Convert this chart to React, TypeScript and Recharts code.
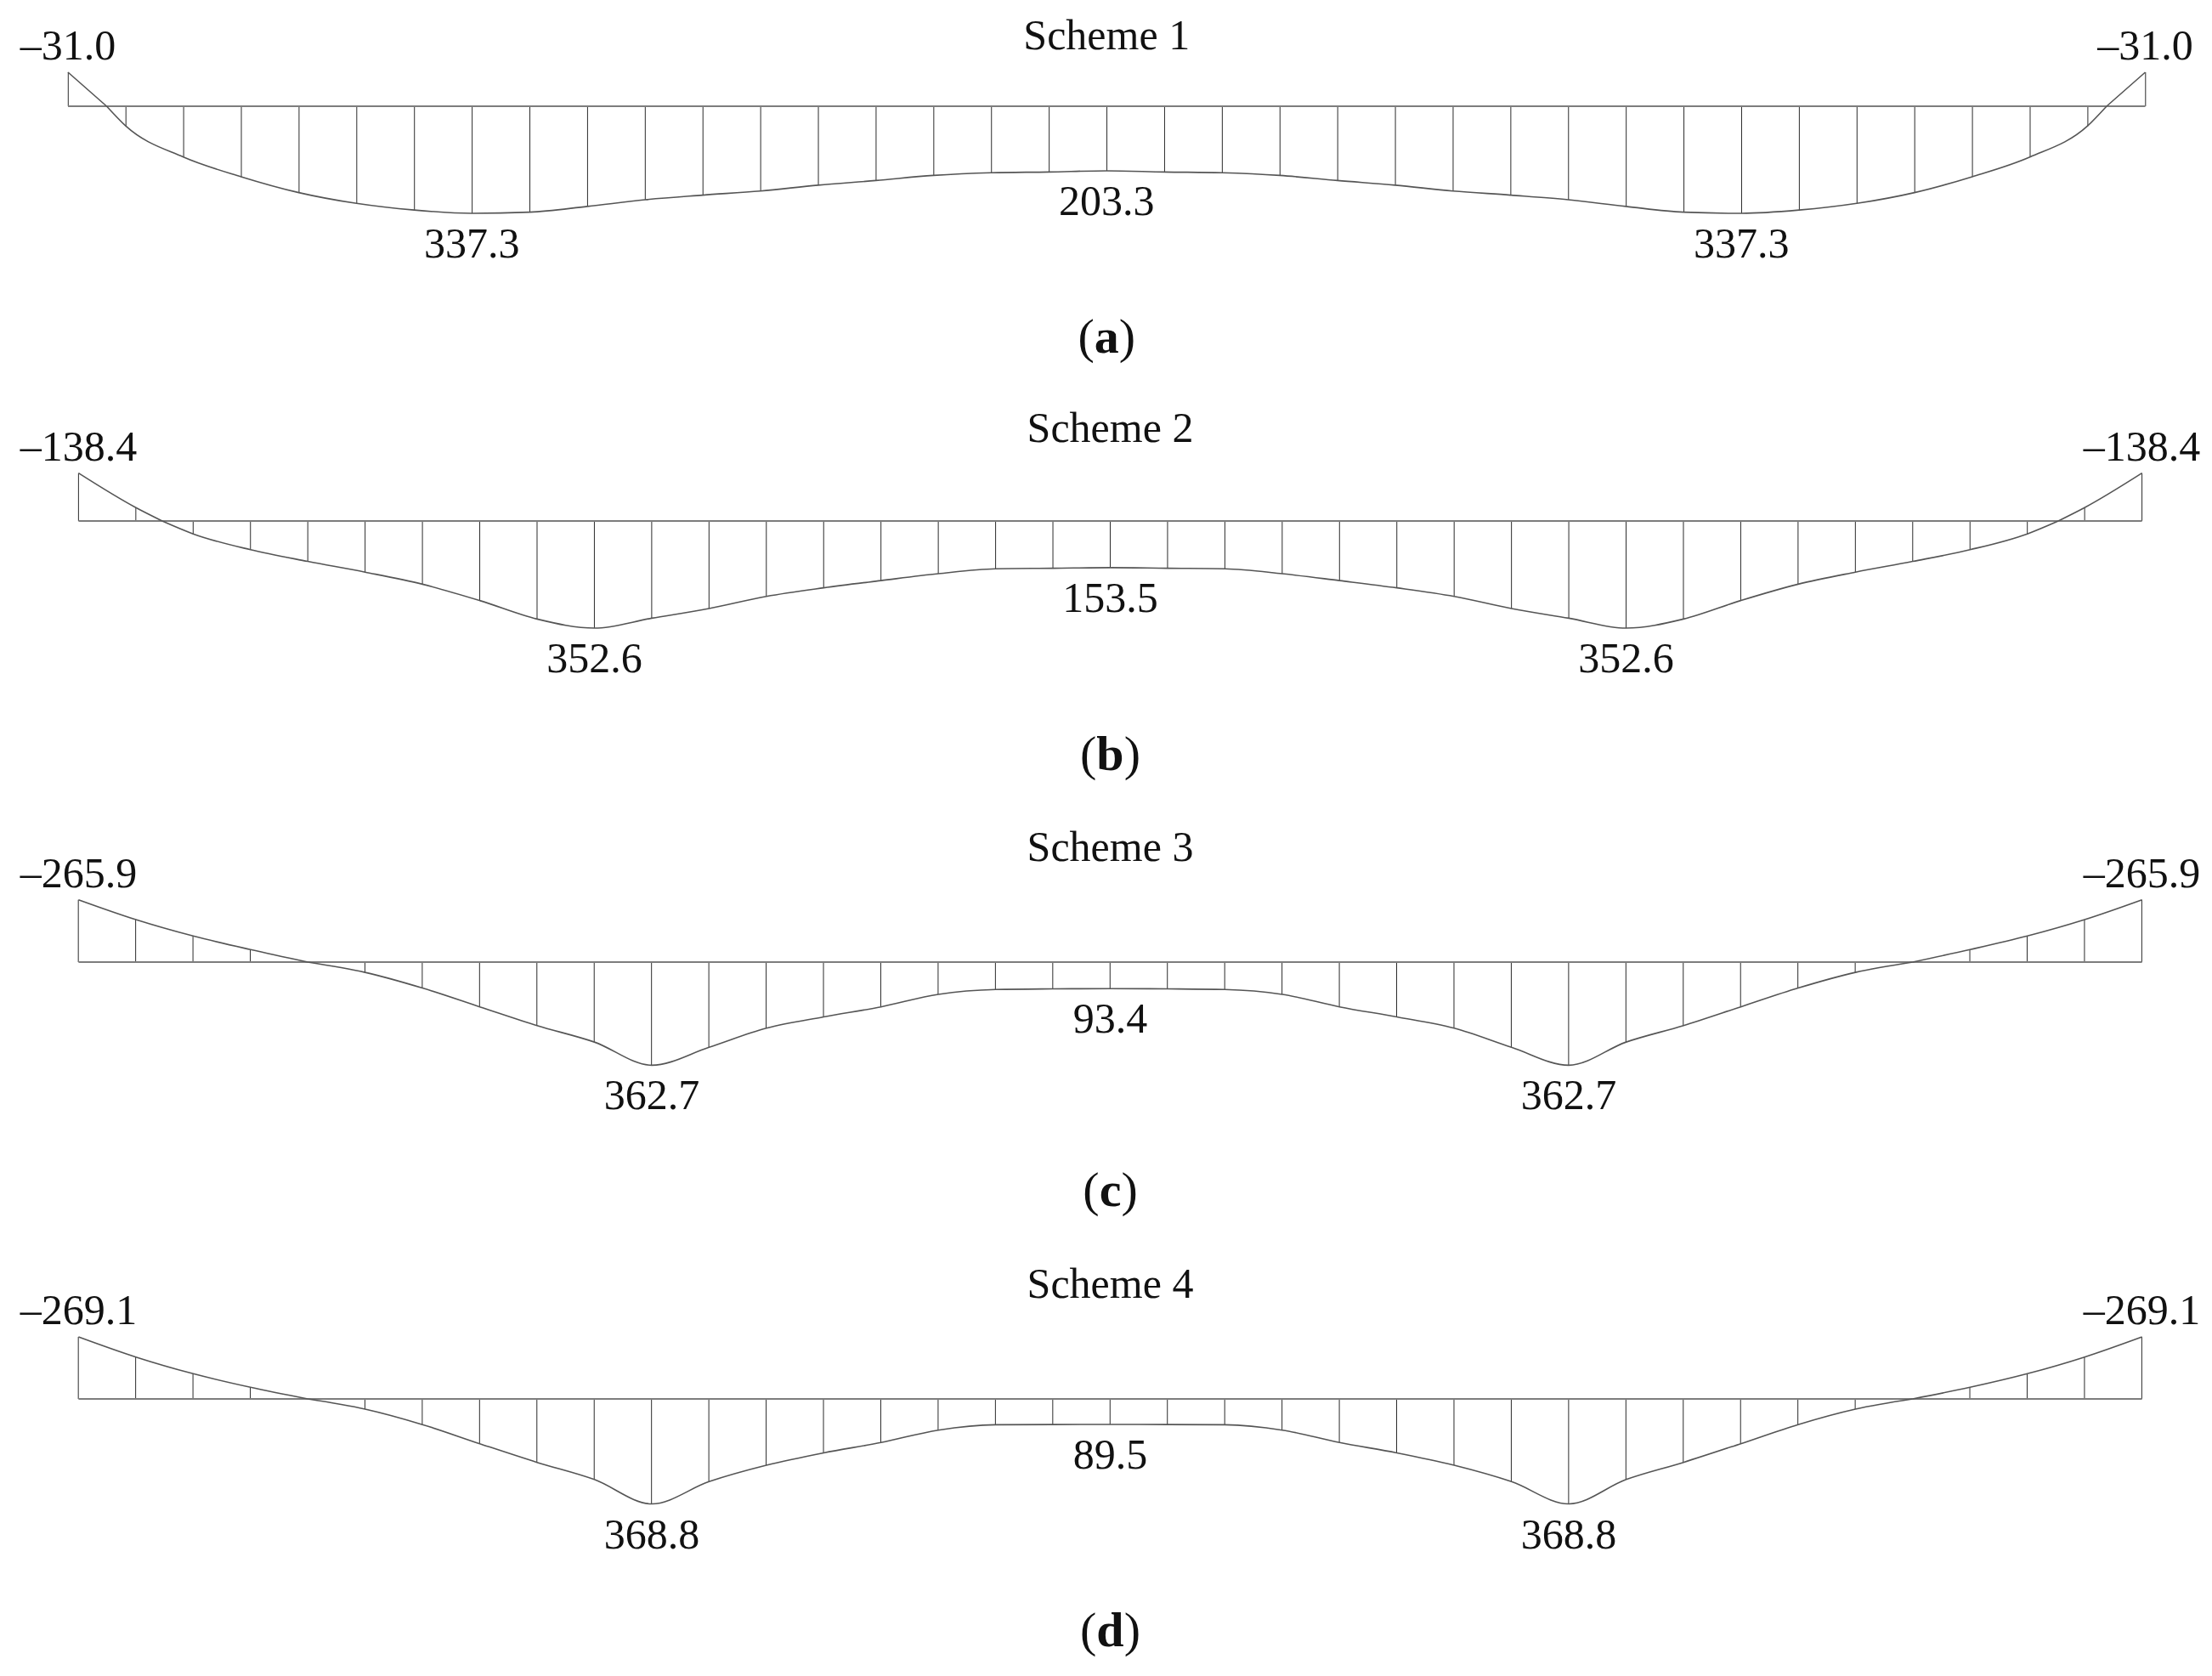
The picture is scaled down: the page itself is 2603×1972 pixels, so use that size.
import React from "react";
import { ComposedChart, Line, Bar, XAxis, YAxis, ReferenceLine } from "recharts";

// 37 cross-sections along the girder (36 equal segments)
const stations = Array.from({ length: 37 }, (_, i) => i);

// bending moment at each section, kN·m (negative = hogging over the supports)
const scheme1 = [
    -31.0, 62.0, 160.0, 222.0, 272.0, 306.0, 327.0, 337.3, 333.6, 315.4, 294.6, 280.0, 266.8,
    248.6, 234.0, 217.9, 209.5, 207.0, 203.3, 207.0, 209.5, 217.9, 234.0, 248.6, 266.8, 280.0,
    294.6, 315.4, 333.6, 337.3, 327.0, 306.0, 272.0, 222.0, 160.0, 62.0, -31.0,
];
const scheme2 = [
    -138.4, -38.6, 42.4, 94.5, 133.1, 168.4, 208.1, 261.9, 322.7, 352.6, 320.0, 288.0, 248.1,
    220.0, 196.2, 173.5, 157.4, 155.6, 153.5, 155.6, 157.4, 173.5, 196.2, 220.0, 248.1, 288.0,
    320.0, 352.6, 322.7, 261.9, 208.1, 168.4, 133.1, 94.5, 42.4, -38.6, -138.4,
];
const scheme3 = [
    -265.9, -181.4, -111.4, -53.3, 0, 36.3, 91.4, 157.4, 223.3, 281.3, 362.7, 299.6, 232.5,
    192.8, 157.4, 113.5, 96.5, 94.3, 93.4, 94.3, 96.5, 113.5, 157.4, 192.8, 232.5, 299.6,
    362.7, 281.3, 223.3, 157.4, 91.4, 36.3, 0, -53.3, -111.4, -181.4, -265.9,
];
const scheme4 = [
    -269.1, -181.8, -109.4, -50.4, 0, 35.7, 90.0, 157.3, 222.9, 283.2, 368.8, 290.7, 233.2,
    189.5, 153.2, 109.5, 90.7, 89.9, 89.5, 89.9, 90.7, 109.5, 153.2, 189.5, 233.2, 290.7,
    368.8, 283.2, 222.9, 157.3, 90.0, 35.7, 0, -50.4, -109.4, -181.8, -269.1,
];

// where the diagram crosses zero (in segment units)
const scheme1Zero = [0.67, 35.33];
const scheme2Zero = [1.46, 34.54];
const scheme3Zero = [4, 32];
const scheme4Zero = [4, 32];

// sections that carry a value label
const scheme1Marks = [0, 7, 18, 29, 36];
const scheme2Marks = [0, 9, 18, 27, 36];
const scheme3Marks = [0, 10, 18, 26, 36];
const scheme4Marks = [0, 10, 18, 26, 36];

const titles = ["Scheme 1", "Scheme 2", "Scheme 3", "Scheme 4"];
const captions = ["a", "b", "c", "d"];

const W = 2603;
const H = 1972;
const UP = 150;
const DOWN = 220;
const FONT = "'Liberation Serif', 'Times New Roman', serif";

// page layout of each diagram (px), and drawing scales (px per kN·m)
const layouts = [
    { baseY: 125, left: 80, right: 2524.5, sagPx: 0.3736, hogPx: 1.29, titleY: 58, captionY: 415 },
    { baseY: 613, left: 92.4, right: 2520.6, sagPx: 0.3575, hogPx: 0.4068, titleY: 520, captionY: 906 },
    { baseY: 1132.3, left: 92.4, right: 2520.6, sagPx: 0.3346, hogPx: 0.2757, titleY: 1013, captionY: 1419 },
    { baseY: 1645.7, left: 92.4, right: 2520.6, sagPx: 0.3349, hogPx: 0.2713, titleY: 1527, captionY: 1937 },
];

const fmt = (v: number) => (v < 0 ? "\u2013" + Math.abs(v).toFixed(1) : v.toFixed(1));

function buildRows(values: number[], zeros: number[], marks: number[]) {
    const rows: any[] = stations.map((i) => ({
        x: i,
        m: values[i],
        endMark: marks.includes(i) && (i === 0 || i === 36) ? fmt(values[i]) : undefined,
        midMark: marks.includes(i) && i !== 0 && i !== 36 ? fmt(values[i]) : undefined,
    }));
    zeros.forEach((z) => {
        if (!stations.includes(z)) rows.push({ x: z, m: 0 });
    });
    rows.sort((a, b) => a.x - b.x);
    return rows.map((r) => ({
        ...r,
        hog: r.m <= 0 ? r.m : null,
        sag: r.m >= 0 ? r.m : null,
    }));
}

const schemes = [
    buildRows(scheme1, scheme1Zero, scheme1Marks),
    buildRows(scheme2, scheme2Zero, scheme2Marks),
    buildRows(scheme3, scheme3Zero, scheme3Marks),
    buildRows(scheme4, scheme4Zero, scheme4Marks),
];

const textStyle = { fontFamily: FONT, fontSize: 50, fill: "#111" };

const endLabel = (props: any) => {
    const { cx, cy, payload, index } = props;
    if (cy == null || isNaN(cy) || !payload || !payload.endMark) return <g key={`e-${index}`} />;
    return (
        <text key={`e-${index}`} x={cx} y={cy - 15} textAnchor="middle" style={textStyle}>
            {payload.endMark}
        </text>
    );
};

const midLabel = (props: any) => {
    const { cx, cy, payload, index } = props;
    if (cy == null || isNaN(cy) || !payload || !payload.midMark) return <g key={`m-${index}`} />;
    return (
        <text key={`m-${index}`} x={cx} y={cy + 52} textAnchor="middle" style={textStyle}>
            {payload.midMark}
        </text>
    );
};

function MomentDiagram({ rows, layout }: { rows: any[]; layout: any }) {
    return (
        <div style={{ position: "absolute", left: 0, top: layout.baseY - UP, width: W, height: UP + DOWN }}>
            <ComposedChart
                width={W}
                height={UP + DOWN}
                data={rows}
                barGap={-1}
                margin={{ top: 0, bottom: 0, left: layout.left, right: W - layout.right }}
            >
                <XAxis type="number" dataKey="x" domain={[0, 36]} hide />
                <YAxis
                    yAxisId="sag"
                    type="number"
                    domain={[-UP / layout.sagPx, DOWN / layout.sagPx]}
                    reversed
                    hide
                />
                <YAxis
                    yAxisId="hog"
                    type="number"
                    domain={[-UP / layout.hogPx, DOWN / layout.hogPx]}
                    reversed
                    hide
                />
                <ReferenceLine yAxisId="sag" y={0} stroke="#7d7d7d" strokeWidth={2} />
                <Bar yAxisId="hog" dataKey="hog" barSize={1} fill="#2b2b2b" isAnimationActive={false} />
                <Bar yAxisId="sag" dataKey="sag" barSize={1} fill="#2b2b2b" isAnimationActive={false} />
                <Line
                    yAxisId="hog"
                    dataKey="hog"
                    type="monotone"
                    stroke="#555"
                    strokeWidth={1.6}
                    dot={endLabel}
                    activeDot={false}
                    connectNulls={false}
                    isAnimationActive={false}
                />
                <Line
                    yAxisId="sag"
                    dataKey="sag"
                    type="monotone"
                    stroke="#555"
                    strokeWidth={1.6}
                    dot={midLabel}
                    activeDot={false}
                    connectNulls={false}
                    isAnimationActive={false}
                />
            </ComposedChart>
        </div>
    );
}

export default function App() {
    return (
        <div style={{ position: "absolute", left: 0, top: 0, width: W, height: H, background: "#fff", overflow: "hidden" }}>
            {schemes.map((rows, k) => (
                <MomentDiagram key={k} rows={rows} layout={layouts[k]} />
            ))}
            <svg width={W} height={H} style={{ position: "absolute", left: 0, top: 0, pointerEvents: "none" }}>
                {layouts.map((l, k) => (
                    <g key={k}>
                        <text x={(l.left + l.right) / 2} y={l.titleY} textAnchor="middle" style={textStyle}>
                            {titles[k]}
                        </text>
                        <text
                            x={(l.left + l.right) / 2}
                            y={l.captionY}
                            textAnchor="middle"
                            style={{ fontFamily: FONT, fontSize: 58, fill: "#111" }}
                        >
                            (<tspan fontWeight="bold">{captions[k]}</tspan>)
                        </text>
                    </g>
                ))}
            </svg>
        </div>
    );
}
